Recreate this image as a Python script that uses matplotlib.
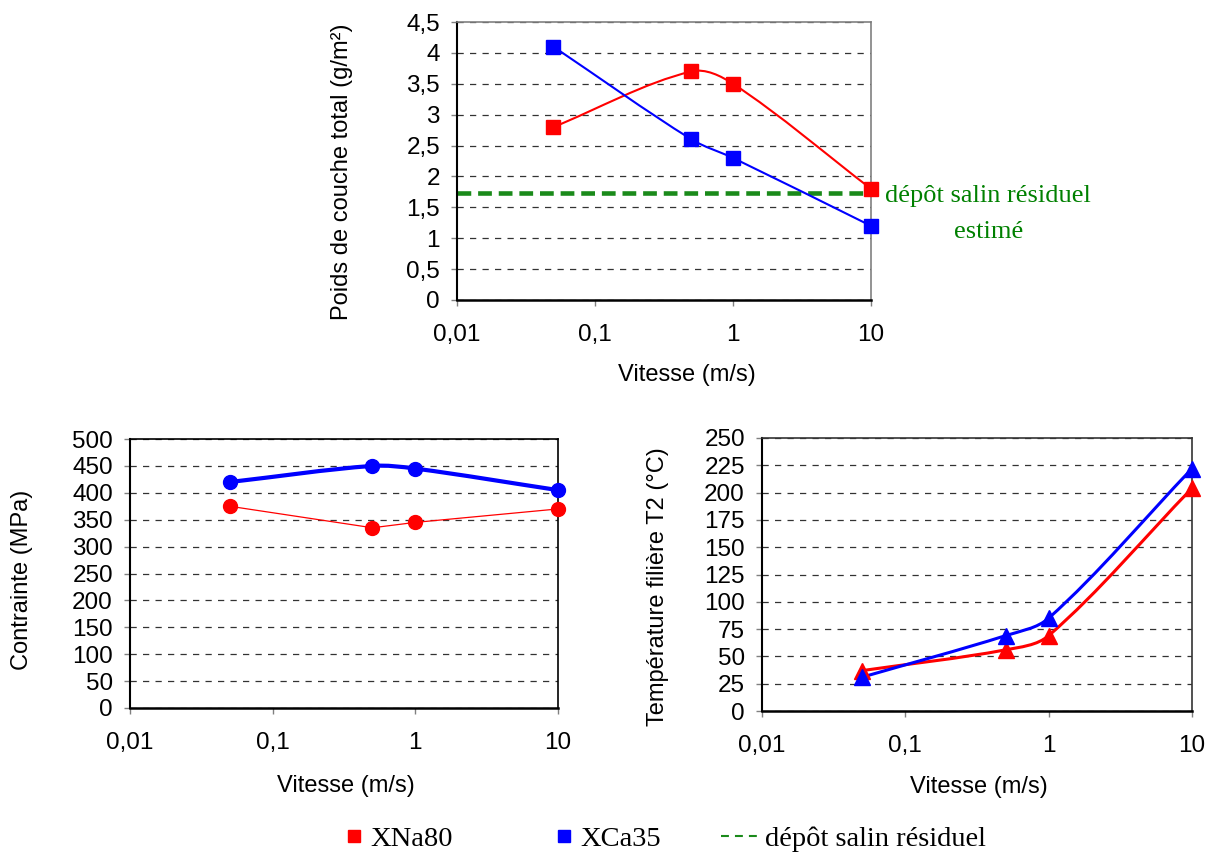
import numpy as np
import matplotlib
matplotlib.use('Agg')
import matplotlib.pyplot as plt
from matplotlib.path import Path
from matplotlib.patches import PathPatch
from matplotlib.lines import Line2D
from matplotlib.ticker import FuncFormatter, FixedLocator, NullLocator

# data
vitesse = [0.05, 0.5, 1, 10]
poids_xna80 = [2.8, 3.7, 3.5, 1.8]
poids_xca35 = [4.1, 2.6, 2.3, 1.2]
depot_residuel = 1.74
contrainte_xna80 = [375, 335, 345, 370]
contrainte_xca35 = [420, 450, 445, 405]
temp_xna80 = [37, 56, 69, 204]
temp_xca35 = [31, 69, 85, 222]

x_ticks = [0.01, 0.1, 1, 10]
x_ticklabels = ['0,01', '0,1', '1', '10']

RED = '#ff0000'
BLUE = '#0000ff'
GREEN = '#1a8a1a'
W, H = 1215, 856


def px_axes(fig, left, top, right, bottom):
    return fig.add_axes([left / W, 1 - bottom / H, (right - left) / W, (bottom - top) / H])


def smooth_path(ax, xs, ys, k=0.33):
    # smoothed line like Excel: cubic bezier through the points, tangents from neighbours
    pts = ax.transData.transform(np.column_stack([xs, ys]))
    n = len(pts)
    tang = []
    for i in range(n):
        d = pts[min(i + 1, n - 1)] - pts[max(i - 1, 0)]
        tang.append(d / np.hypot(*d))
    verts = [pts[0]]
    codes = [Path.MOVETO]
    for i in range(n - 1):
        seg = np.hypot(*(pts[i + 1] - pts[i]))
        verts += [pts[i] + tang[i] * seg * k, pts[i + 1] - tang[i + 1] * seg * k, pts[i + 1]]
        codes += [Path.CURVE4] * 3
    verts = ax.transData.inverted().transform(np.array(verts))
    return Path(verts, codes)


def setup_axes(ax, ymax, ystep, side_color):
    ax.set_xscale('log')
    ax.set_xlim(0.01, 10)
    ax.set_ylim(0, ymax)
    ax.xaxis.set_major_locator(FixedLocator(x_ticks))
    ax.xaxis.set_minor_locator(NullLocator())
    ax.set_xticklabels(x_ticklabels)
    ax.set_yticks(np.arange(0, ymax + ystep / 2, ystep))
    ax.yaxis.set_major_formatter(FuncFormatter(lambda v, p: f'{v:g}'.replace('.', ',')))
    ax.tick_params(axis='both', labelsize=17.5, color='#808080', width=1, length=4.3)
    ax.tick_params(axis='y', pad=8)
    ax.tick_params(axis='x', pad=13)
    ax.yaxis.grid(True, color='#333333', lw=0.9, linestyle=(0, (5, 5)))
    ax.set_axisbelow(True)
    ax.spines['left'].set_linewidth(1.5)
    ax.spines['bottom'].set_linewidth(1.8)
    for s in ['top', 'right']:
        ax.spines[s].set_color(side_color)
        ax.spines[s].set_linewidth(1.2)


def draw_series(ax, xs, ys, color, marker, ms, lw, smooth=True):
    if smooth:
        ax.add_patch(PathPatch(smooth_path(ax, xs, ys), fill=False, edgecolor=color,
                               lw=lw, zorder=3, clip_on=False))
    else:
        ax.plot(xs, ys, color=color, lw=lw, zorder=3, clip_on=False)
    ax.plot(xs, ys, ls='none', marker=marker, ms=ms, color=color, zorder=4, clip_on=False)


plt.rcParams['font.family'] = ['Liberation Sans', 'DejaVu Sans']

fig = plt.figure(figsize=(W / 100, H / 100), dpi=100)

# top: poids de couche
ax1 = px_axes(fig, 457, 22, 871, 300)
setup_axes(ax1, 4.5, 0.5, '#808080')
ax1.axhline(depot_residuel, color=GREEN, lw=3.3, linestyle=(0, (3.0, 1.5)), zorder=2.5)
draw_series(ax1, vitesse, poids_xna80, RED, 's', 10, 1.5)
draw_series(ax1, vitesse, poids_xca35, BLUE, 's', 10, 1.5)
ax1.set_ylabel('Poids de couche total (g/m²)', fontsize=17)
ax1.set_xlabel('Vitesse (m/s)', fontsize=17)
ax1.yaxis.set_label_coords(-0.251, 0.46)
ax1.xaxis.set_label_coords(0.556, -0.23)
ax1.text(1.283, 0.31, 'dépôt salin résiduel\nestimé', transform=ax1.transAxes,
         ha='center', va='center', multialignment='center', linespacing=1.8,
         color='#008000', fontsize=19, family='Liberation Serif')

# bottom left: contrainte
ax2 = px_axes(fig, 130, 439, 558, 708)
setup_axes(ax2, 500, 50, '#000000')
draw_series(ax2, vitesse, contrainte_xca35, BLUE, 'o', 10, 3)
draw_series(ax2, vitesse, contrainte_xna80, RED, 'o', 10, 0.9, smooth=False)
ax2.set_ylabel('Contrainte (MPa)', fontsize=17)
ax2.set_xlabel('Vitesse (m/s)', fontsize=17)
ax2.yaxis.set_label_coords(-0.227, 0.476)
ax2.xaxis.set_label_coords(0.505, -0.249)

# bottom right: temperature
ax3 = px_axes(fig, 762, 438, 1192, 711)
setup_axes(ax3, 250, 25, '#333333')
draw_series(ax3, vitesse, temp_xna80, RED, '^', 11, 2.2)
draw_series(ax3, vitesse, temp_xca35, BLUE, '^', 11, 2.2)
ax3.set_ylabel('Température filière T2 (°C)', fontsize=17)
ax3.set_xlabel('Vitesse (m/s)', fontsize=17)
ax3.yaxis.set_label_coords(-0.216, 0.454)
ax3.xaxis.set_label_coords(0.505, -0.238)

# legend along the bottom
entries = [
    (Line2D([], [], ls='none', marker='s', ms=8.6, color=RED), 'XNa80', 326, 1.0, 0.06),
    (Line2D([], [], ls='none', marker='s', ms=8.6, color=BLUE), 'XCa35', 536, 1.0, 0.06),
    (Line2D([], [], color=GREEN, lw=1.5, linestyle=(0, (3.8, 2.9))), 'dépôt salin résiduel', 707, 1.35, 0.2),
]
for handle, label, x0, hl, pad in entries:
    fig.legend(handles=[handle], labels=[label], loc='center left',
               bbox_to_anchor=(x0 / W, 1 - 839 / H), frameon=False, borderpad=0,
               handlelength=hl, handletextpad=pad,
               prop={'family': 'Liberation Serif', 'size': 20.5})

fig.savefig('out.png', dpi=100)
